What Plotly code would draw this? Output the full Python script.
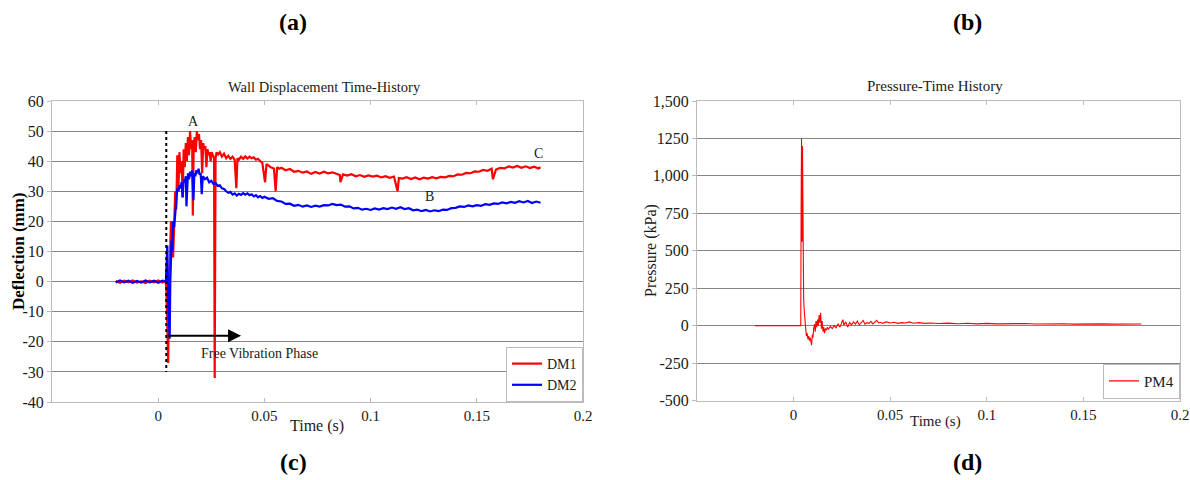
import plotly.graph_objects as go

# ---------------- data ----------------
dm1_t = [-0.020, -0.018, -0.016, -0.014, -0.012, -0.010, -0.008, -0.006, -0.004, -0.002, 0.000, 0.002, 0.0035,
         0.0038, 0.0043, 0.0047, 0.0050, 0.0055, 0.0060, 0.0065, 0.0070, 0.0075, 0.0080, 0.0085, 0.0090, 0.0095,
         0.0100, 0.0105, 0.0110, 0.0115, 0.0120, 0.0125, 0.0130, 0.0135, 0.0140, 0.0145, 0.0150, 0.0155, 0.0160,
         0.0163, 0.0167, 0.0172, 0.0177, 0.0182, 0.0187, 0.0192, 0.0197, 0.0202, 0.0207, 0.0212, 0.0217, 0.0222,
         0.0227, 0.0232, 0.0237, 0.0242, 0.0247, 0.0252, 0.0258, 0.0263, 0.0266, 0.0270, 0.0275, 0.0280, 0.029,
         0.030, 0.031, 0.032, 0.033, 0.034, 0.035, 0.036, 0.0368, 0.0373, 0.038, 0.039, 0.040, 0.041, 0.042,
         0.043, 0.044, 0.045, 0.046, 0.047, 0.048, 0.049, 0.0503, 0.051, 0.052, 0.053, 0.0545, 0.0553, 0.056,
         0.057, 0.058, 0.060, 0.062, 0.064, 0.066, 0.068, 0.070, 0.072, 0.074, 0.076, 0.078, 0.080, 0.082,
         0.0855, 0.0858, 0.087, 0.089, 0.091, 0.093, 0.095, 0.097, 0.099, 0.101, 0.103, 0.105, 0.107, 0.109,
         0.111, 0.1127, 0.1133, 0.115, 0.117, 0.119, 0.121, 0.123, 0.125, 0.127, 0.129, 0.131, 0.133, 0.135,
         0.137, 0.139, 0.141, 0.143, 0.145, 0.147, 0.149, 0.151, 0.153, 0.155, 0.157, 0.1576, 0.159, 0.161,
         0.163, 0.165, 0.167, 0.169, 0.171, 0.173, 0.175, 0.177, 0.179, 0.180]
dm1_v = [0.2, -0.4, 0.3, -0.2, 0.4, -0.3, 0.1, -0.5, 0.3, -0.2, 0.4, -0.3, 0.2,
         -2, -15, -27, -8, 5, 20, 12, 8, 18, 30, 24, 42, 30,
         43, 36, 40, 28, 44, 38, 46, 40, 48, 42, 50, 44, 47,
         22, 45, 48, 43, 50, 47, 49, 44, 47, 36, 46, 44, 45,
         38, 44, 42, 43, 40, 43, 42, 41, -32, 41, 43, 42, 43,
         41.5, 42.5, 41, 41.8, 40.8, 41.5, 40.5, 31, 41, 40.5, 41.5, 40.8, 41.6, 40.9,
         41.5, 41, 41.3, 40.5, 40.8, 40, 39.5, 33, 39, 38.5, 38, 37.6, 30, 38,
         37.5, 37.8, 37, 37.4, 36.5, 36.8, 36.2, 36.6, 35.8, 36.4, 35.9, 36.5, 36, 36.3,
         35.4, 33, 35.6, 35.2, 35.7, 35, 35.4, 34.8, 35.3, 34.9, 35.2, 34.6, 35, 34.5,
         34.9, 30, 34.4, 34.2, 34.7, 34.1, 34.6, 34, 34.5, 34.2, 34.7, 34.3, 34.8, 34.6,
         35.1, 35, 35.6, 35.5, 36.1, 36, 36.6, 36.5, 37.1, 36.8, 37.5, 34, 37.2, 37.8,
         37.6, 38.3, 37.9, 38.4, 37.8, 38.3, 37.7, 38.2, 37.6, 38]

dm2_t = [-0.020, -0.018, -0.016, -0.014, -0.012, -0.010, -0.008, -0.006, -0.004, -0.002, 0.000, 0.002, 0.0036,
         0.0040, 0.0043, 0.0047, 0.0050, 0.0054, 0.0057, 0.0060, 0.0063, 0.0066, 0.0070, 0.0075, 0.0080, 0.0085,
         0.0090, 0.0095, 0.0100, 0.0105, 0.011, 0.0115, 0.012, 0.0125, 0.013, 0.0133, 0.0137, 0.014, 0.0145,
         0.015, 0.0155, 0.016, 0.0166, 0.017, 0.0175, 0.018, 0.0185, 0.019, 0.0195, 0.020, 0.0205, 0.021,
         0.022, 0.023, 0.024, 0.025, 0.026, 0.027, 0.028, 0.029, 0.030, 0.031, 0.032, 0.033, 0.034, 0.035,
         0.036, 0.037, 0.038, 0.039, 0.040, 0.041, 0.042, 0.043, 0.044, 0.045, 0.046, 0.047, 0.048, 0.049,
         0.050, 0.052, 0.054, 0.056, 0.058, 0.060, 0.062, 0.064, 0.066, 0.068, 0.070, 0.072, 0.074, 0.076,
         0.078, 0.080, 0.082, 0.084, 0.086, 0.088, 0.090, 0.092, 0.094, 0.096, 0.098, 0.100, 0.102, 0.104,
         0.106, 0.108, 0.110, 0.112, 0.114, 0.116, 0.118, 0.120, 0.122, 0.124, 0.126, 0.128, 0.130, 0.132,
         0.134, 0.136, 0.138, 0.140, 0.142, 0.144, 0.146, 0.148, 0.150, 0.152, 0.154, 0.156, 0.158, 0.160,
         0.162, 0.164, 0.166, 0.168, 0.170, 0.172, 0.174, 0.176, 0.178, 0.180]
dm2_v = [-0.3, 0.4, -0.2, 0.3, -0.4, 0.2, -0.3, 0.4, -0.2, 0.3, -0.4, 0.3, 0,
         5, 12, -5, -12, -19, 0, 8, 14, 10, 20, 18, 23, 27,
         31, 30, 32, 31, 33, 28, 34, 33, 35, 25, 34, 36, 34,
         36.5, 35, 37, 27, 36, 35, 37, 36, 37.5, 35.5, 36, 29, 35,
         34, 34.5, 33, 33.5, 32.5, 32.8, 31.8, 32, 31, 30.8, 30, 29.5, 29.8, 28.9,
         29.3, 28.6, 29.2, 28.8, 29.4, 28.9, 29.3, 28.7, 29, 28.3, 28.7, 28, 28.4, 27.8,
         28.2, 27.5, 27.7, 26.8, 26.6, 25.8, 25.9, 25.2, 25.5, 24.9, 25.3, 24.8, 25.2, 24.9,
         25.4, 25.3, 25.8, 25.4, 25.6, 24.9, 25, 24.3, 24.5, 23.9, 24.2, 23.8, 24.3, 23.9,
         24.4, 24.1, 24.6, 24.2, 24.7, 24.1, 24.4, 23.7, 23.9, 23.4, 23.8, 23.3, 23.7, 23.4,
         23.9, 23.8, 24.4, 24.5, 25, 24.8, 25.3, 25, 25.4, 25.2, 25.7, 25.5, 26, 25.8,
         26.3, 26, 26.5, 26.2, 26.7, 26.3, 26.8, 26.1, 26.6, 26.2]

pm4_t = [-0.020, -0.010, 0.000, 0.0035, 0.0037, 0.0039, 0.0041, 0.0043, 0.0044, 0.0045, 0.0046, 0.0048,
         0.0050, 0.0052, 0.0055, 0.0058, 0.0062, 0.0066, 0.0070, 0.0074, 0.0078, 0.0082, 0.0086, 0.0090,
         0.0093, 0.0097, 0.0100, 0.0104, 0.0108, 0.0112, 0.0116, 0.0120, 0.0124, 0.0128, 0.0132, 0.0136,
         0.0140, 0.0144, 0.0148, 0.0152, 0.0156, 0.0160, 0.0165, 0.0170, 0.0175, 0.0180, 0.019, 0.020,
         0.021, 0.022, 0.023, 0.024, 0.025, 0.0255, 0.026, 0.027, 0.028, 0.029, 0.030, 0.031, 0.032,
         0.033, 0.034, 0.035, 0.036, 0.037, 0.038, 0.039, 0.040, 0.041, 0.042, 0.043, 0.044, 0.045,
         0.046, 0.048, 0.050, 0.052, 0.054, 0.056, 0.058, 0.060, 0.062, 0.065, 0.068, 0.071, 0.075,
         0.080, 0.085, 0.090, 0.095, 0.100, 0.105, 0.110, 0.115, 0.120, 0.125, 0.130, 0.135, 0.140,
         0.145, 0.150, 0.155, 0.160, 0.165, 0.170, 0.175, 0.180]
pm4_v = [0, 0, 0, 0, 0, 800, 1250, 900, 560, 600, 1200, 500,
         250, 180, 100, 40, -40, -70, -50, -90, -70, -100, -80, -110,
         -130, -60, -80, -20, 10, -40, 30, -10, 40, 0, 70, 20,
         85, -20, 30, -40, -10, -50, -20, -30, -10, -25, -5, -20,
         0, -15, 10, -10, 20, 40, 5, 25, -10, 20, 5, 25, 10,
         30, 5, 20, 35, 10, 20, 15, 28, 12, 22, 35, 18, 22,
         15, 25, 18, 22, 15, 20, 18, 25, 16, 20, 15, 18, 14,
         17, 13, 16, 12, 15, 12, 14, 11, 14, 11, 13, 10, 13,
         10, 12, 10, 12, 10, 12, 10, 11]

x_ticks = [0, 0.05, 0.1, 0.15, 0.2]
x_tick_labels = ["0", "0.05", "0.1", "0.15", "0.2"]
defl_ticks = [-40, -30, -20, -10, 0, 10, 20, 30, 40, 50, 60]
defl_tick_labels = ["-40", "-30", "-20", "-10", "0", "10", "20", "30", "40", "50", "60"]
pres_ticks = [-500, -250, 0, 250, 500, 750, 1000, 1250, 1500]
pres_tick_labels = ["-500", "-250", "0", "250", "500", "750", "1,000", "1250", "1,500"]

onset_t = 0.0038          # dotted line / start of free vibration
arrow_end_t = 0.039
arrow_y = -18
point_labels = [("A", 0.0168, 53.2), ("B", 0.1275, 28.3), ("C", 0.179, 42.5)]

# ---------------- figure ----------------
SERIF = "Liberation Serif"
GRID = "#858585"
FRAME = "#bcbcbc"
TXT = "#1a1a1a"

fig = go.Figure()
fig.add_trace(go.Scatter(x=dm1_t, y=dm1_v, mode="lines", name="DM1",
                         line=dict(color="#ff0000", width=2.2), xaxis="x", yaxis="y", legend="legend"))
fig.add_trace(go.Scatter(x=dm2_t, y=dm2_v, mode="lines", name="DM2",
                         line=dict(color="#0000ff", width=2.2), xaxis="x", yaxis="y", legend="legend"))
fig.add_trace(go.Scatter(x=pm4_t, y=pm4_v, mode="lines", name="PM4",
                         line=dict(color="#ff0000", width=1.1), xaxis="x2", yaxis="y2", legend="legend2"))

L_DOM = [52 / 1190, 583 / 1190]
R_DOM = [697 / 1190, 1180 / 1190]
Y_DOM = [1 - 402 / 480, 1 - 101 / 480]
Y2_DOM = [1 - 400.5 / 480, 1 - 101 / 480]

xcommon = dict(range=[-0.05, 0.2], tickmode="array", tickvals=x_ticks, ticktext=x_tick_labels, showgrid=False,
               zeroline=False, showline=True, linecolor=FRAME, linewidth=1, mirror="ticks",
               ticks="inside", ticklen=4, tickcolor=FRAME,
               tickfont=dict(family=SERIF, size=15, color=TXT))
ycommon = dict(showgrid=True, gridcolor=GRID, gridwidth=1, zeroline=False, showline=True,
               linecolor=FRAME, linewidth=1, mirror=True, ticks="outside", ticklen=4, tickcolor=FRAME,
               tickmode="array", tickfont=dict(family=SERIF, size=16, color=TXT))

fig.update_layout(
    template="none",
    width=1190, height=480, margin=dict(l=0, r=0, t=0, b=0),
    font=dict(family=SERIF, size=15, color=TXT),
    paper_bgcolor="white", plot_bgcolor="white",
    xaxis=dict(domain=L_DOM, anchor="y", **xcommon),
    yaxis=dict(domain=Y_DOM, anchor="x", range=[-40, 60], tickvals=defl_ticks,
               ticktext=defl_tick_labels, **ycommon),
    xaxis2=dict(domain=R_DOM, anchor="y2", **xcommon),
    yaxis2=dict(domain=Y2_DOM, anchor="x2", range=[-500, 1500], tickvals=pres_ticks,
                ticktext=pres_tick_labels, **ycommon),
    legend=dict(x=L_DOM[1], y=Y_DOM[0], xanchor="right", yanchor="bottom",
                bordercolor=FRAME, borderwidth=1, bgcolor="white",
                font=dict(family=SERIF, size=14, color=TXT), itemwidth=30, tracegroupgap=0),
    legend2=dict(x=R_DOM[1], y=Y2_DOM[0] + 0.004, xanchor="right", yanchor="bottom",
                 bordercolor=FRAME, borderwidth=1, bgcolor="white",
                 font=dict(family=SERIF, size=15, color=TXT), itemwidth=30),
    showlegend=True,
)

# dotted onset line and free-vibration arrow
fig.add_shape(type="line", xref="x", yref="y", x0=onset_t, x1=onset_t, y0=50, y1=-30,
              line=dict(color="black", width=2, dash="dot"))
fig.add_annotation(xref="x", yref="y", axref="x", ayref="y", x=arrow_end_t, y=arrow_y,
                   ax=onset_t, ay=arrow_y, showarrow=True, arrowhead=2, arrowsize=1.3,
                   arrowwidth=2, arrowcolor="black", text="")
fig.add_annotation(xref="x", yref="y", x=0.0476, y=-24, text="Free Vibration Phase", showarrow=False,
                   font=dict(family=SERIF, size=14, color=TXT))
for lab, tx, ty in point_labels:
    fig.add_annotation(xref="x", yref="y", x=tx, y=ty, text=lab, showarrow=False,
                       font=dict(family=SERIF, size=14, color=TXT))

# titles, axis titles, panel letters
def paper_text(x, y, text, size, bold=False, angle=0):
    fig.add_annotation(xref="paper", yref="paper", x=x / 1190, y=1 - y / 480, text=f"<b>{text}</b>" if bold else text,
                       showarrow=False, textangle=angle, xanchor="center", yanchor="middle",
                       font=dict(family=SERIF, size=size, color="black" if bold else TXT))

paper_text(325, 87, "Wall Displacement Time-History", 14.5)
paper_text(935, 86, "Pressure-Time History", 15)
paper_text(18, 251, "Deflection (mm)", 17, bold=True, angle=-90)
paper_text(651, 251, "Pressure (kPa)", 16, angle=-90)
paper_text(317, 426, "Time (s)", 16)
paper_text(935, 421, "Time (s)", 15)
paper_text(293, 22, "(a)", 24, bold=True)
paper_text(967, 22, "(b)", 24, bold=True)
paper_text(293, 462, "(c)", 24, bold=True)
paper_text(967, 462, "(d)", 24, bold=True)

fig.write_html("out.html")
